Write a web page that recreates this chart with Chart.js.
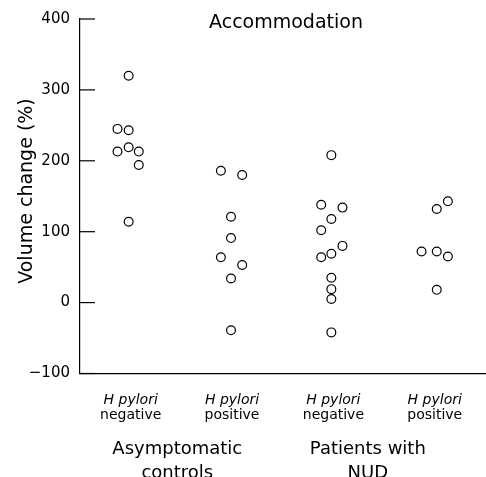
<!DOCTYPE html>
<html>
<head>
    <meta charset="utf-8" />
    <title>Accommodation</title>
    <script src="https://cdn.jsdelivr.net/npm/chart.js@4.4.1/dist/chart.umd.min.js"></script>
    <style>
        body {
            margin: 0;
            background: #ffffff;
            overflow: hidden;
        }
        canvas {
            display: block;
        }
    </style>
</head>
<body>
<canvas id="chart" width="491" height="477"></canvas>
<script>
    // data
    const chartTitle = 'Accommodation';
    const yTitle = 'Volume change (%)';
    const yTicks = [-100, 0, 100, 200, 300, 400];
    const categoryTop = 'H pylori';
    const categories = ['negative', 'positive', 'negative', 'positive'];
    const groupLabels = [['Asymptomatic', 'controls'], ['Patients with', 'NUD']];
    const groupCentres = [1.46, 3.34];

    // asymptomatic controls, H pylori negative
    const ctrlNegX = [0.98, 0.87, 0.98, 0.87, 0.98, 1.08, 1.08, 0.98];
    const ctrlNegY = [320, 245, 243, 213, 219, 213, 194, 114];
    // asymptomatic controls, H pylori positive
    const ctrlPosX = [1.89, 2.10, 1.99, 1.99, 1.89, 2.10, 1.99, 1.99];
    const ctrlPosY = [186, 180, 121, 91, 64, 53, 34, -39];
    // NUD, H pylori negative
    const nudNegX = [2.98, 2.88, 3.09, 2.98, 2.88, 3.09, 2.98, 2.88, 2.98, 2.98, 2.98, 2.98];
    const nudNegY = [208, 138, 134, 118, 102, 80, 69, 64, 35, 19, 5, -42];
    // NUD, H pylori positive
    const nudPosX = [4.13, 4.02, 3.87, 4.02, 4.13, 4.02];
    const nudPosY = [143, 132, 72, 72, 65, 18];

    const ink = '#000000';
    const fontFamily = '"DejaVu Sans", "Liberation Sans", Arial, sans-serif';

    function toPoints(xs, ys) {
        return xs.map((x, i) => ({ x: x, y: ys[i] }));
    }

    function series(xs, ys) {
        return {
            data: toPoints(xs, ys),
            pointRadius: 4.4,
            pointBorderWidth: 1.2,
            pointBorderColor: ink,
            pointBackgroundColor: '#ffffff',
            showLine: false
        };
    }

    const labelsPlugin = {
        id: 'labels',
        afterDraw(chart) {
            const ctx = chart.ctx;
            const area = chart.chartArea;
            const xs = chart.scales.x;
            const ys = chart.scales.y;
            ctx.save();

            // inward tick marks on the y axis
            ctx.strokeStyle = ink;
            ctx.lineWidth = 1.2;
            yTicks.forEach(v => {
                const py = ys.getPixelForValue(v);
                ctx.beginPath();
                ctx.moveTo(area.left, py);
                ctx.lineTo(area.left + 15, py);
                ctx.stroke();
            });

            ctx.fillStyle = ink;

            // title inside the plot
            ctx.font = '19px ' + fontFamily;
            ctx.textAlign = 'center';
            ctx.textBaseline = 'alphabetic';
            ctx.fillText(chartTitle, 286, 28);

            // y axis title
            ctx.save();
            ctx.translate(32, 191);
            ctx.rotate(-Math.PI / 2);
            ctx.fillText(yTitle, 0, 0);
            ctx.restore();

            // category labels
            categories.forEach((c, i) => {
                const px = xs.getPixelForValue(i + 1);
                ctx.font = 'italic 14px ' + fontFamily;
                ctx.fillText(categoryTop, px, 404);
                ctx.font = '14px ' + fontFamily;
                ctx.fillText(c, px, 419);
            });

            // group labels
            ctx.font = '18px ' + fontFamily;
            groupLabels.forEach((lines, i) => {
                const px = xs.getPixelForValue(groupCentres[i]);
                lines.forEach((t, j) => {
                    ctx.fillText(t, px, 454 + j * 24);
                });
            });

            ctx.restore();
        }
    };

    new Chart(document.getElementById('chart'), {
        type: 'scatter',
        data: {
            datasets: [
                series(ctrlNegX, ctrlNegY),
                series(ctrlPosX, ctrlPosY),
                series(nudNegX, nudNegY),
                series(nudPosX, nudPosY)
            ]
        },
        options: {
            responsive: false,
            animation: false,
            layout: {
                padding: { top: 19, left: 0, right: 0, bottom: 0 }
            },
            plugins: {
                legend: { display: false },
                tooltip: { enabled: false },
                title: { display: false }
            },
            scales: {
                x: {
                    type: 'linear',
                    min: 0.5,
                    max: 4.5,
                    grid: { display: false },
                    border: { display: true, color: ink, width: 1.2 },
                    ticks: { display: false },
                    afterFit(scale) {
                        scale.height = 103.5;
                    }
                },
                y: {
                    min: -100,
                    max: 400,
                    afterBuildTicks(scale) {
                        scale.ticks = yTicks.map(v => ({ value: v }));
                    },
                    grid: { display: false, drawTicks: false },
                    border: { display: true, color: ink, width: 1.2 },
                    ticks: {
                        color: ink,
                        padding: 10,
                        font: { family: fontFamily, size: 15 },
                        callback: v => (v < 0 ? '\u2212' + Math.abs(v) : String(v))
                    },
                    afterFit(scale) {
                        scale.width = 80;
                    }
                }
            }
        },
        plugins: [labelsPlugin]
    });
</script>
</body>
</html>
